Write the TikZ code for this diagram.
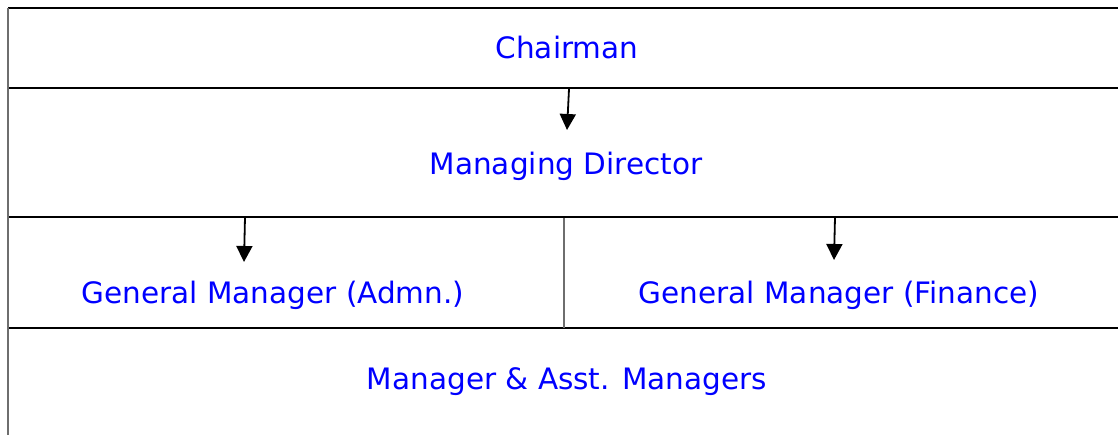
\documentclass[tikz,border=0pt]{standalone}
\usepackage{fontspec}
\setmainfont{DejaVu Sans}
\usetikzlibrary{arrows.meta}
\definecolor{txtblue}{RGB}{0,0,255}
\definecolor{rulegray}{RGB}{110,110,110}
\begin{document}
\begin{tikzpicture}[x=1pt,y=-1pt,
  lbl/.style={text=txtblue,font=\fontsize{29.5}{34}\selectfont,inner sep=0pt,anchor=base},
  hrule/.style={line width=1.8pt,black},
  vrule/.style={line width=2pt,rulegray},
  conn/.style={line width=1.8pt,-{Triangle[width=16pt,length=16pt]}},
  bar/.style={line width=2pt}]
\useasboundingbox (0,0) rectangle (1118,435);
% grid lines
\draw[hrule] (8,8) -- (1118,8);
\draw[hrule] (8,88) -- (1118,88);
\draw[hrule] (8,217) -- (1118,217);
\draw[hrule] (8,328) -- (1118,328);
\draw[vrule] (8,8) -- (8,435);
\draw[vrule] (564,217) -- (564,328);
% texts
\node[lbl] (ch) at (567,59) {Chairman};
\node[lbl] (md) at (566,175) {Managing Director};
\node[lbl] (gma) at (273,304) {General Manager (Admn.)};
\node[lbl] (gmf) at (839,304) {General Manager (Finance)};
\node[lbl] (mgr) at (567,389) {Manager \& Asst. Managers};
% connectors
\coordinate (a1) at (569,89);
\coordinate (a1e) at (567,130);
\coordinate (b0) at (245,217);
\coordinate (b1) at (835,217);
\coordinate (b0e) at (244,262);
\coordinate (b1e) at (834,260);
\draw[conn] (a1) -- (a1e);
\draw[bar] (b0) -- (b1);
\draw[conn] (b0) -- (b0e);
\draw[conn] (b1) -- (b1e);
\end{tikzpicture}
\end{document}
